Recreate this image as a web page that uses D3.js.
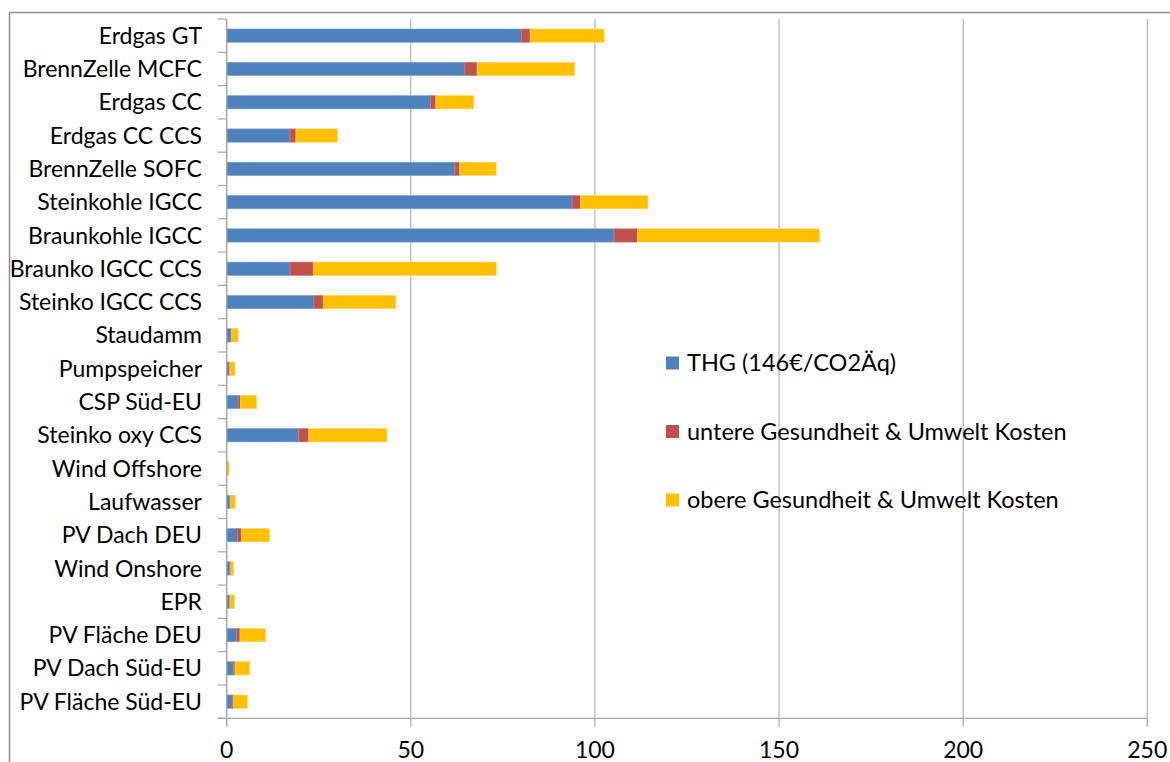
<!DOCTYPE html>
<html>
<head>
<meta charset="utf-8">
<script src="https://cdn.jsdelivr.net/npm/d3@7"></script>
<style>
  html, body { margin: 0; padding: 0; background: #fff; }
  svg { display: block; }
  text { font-family: Lato, "Open Sans", sans-serif; fill: #000; }
</style>
</head>
<body>
<svg id="chart" width="1170" height="762"></svg>
<script>
// Power plant types, top to bottom
const categories = [
  "Erdgas GT", "BrennZelle MCFC", "Erdgas CC", "Erdgas CC CCS", "BrennZelle SOFC",
  "Steinkohle IGCC", "Braunkohle IGCC", "Braunko IGCC CCS", "Steinko IGCC CCS",
  "Staudamm", "Pumpspeicher", "CSP Süd-EU", "Steinko oxy CCS", "Wind Offshore",
  "Laufwasser", "PV Dach DEU", "Wind Onshore", "EPR", "PV Fläche DEU",
  "PV Dach Süd-EU", "PV Fläche Süd-EU"
];

// Series names
const seriesNames = [
  "THG (146€/CO2Äq)",
  "untere Gesundheit & Umwelt Kosten",
  "obere Gesundheit & Umwelt Kosten"
];

// Stacked cost components per category
const thg = [
  80.0, 64.7, 55.4, 17.2, 62.0,
  93.8, 105.2, 17.2, 23.7,
  1.2, 0.8, 3.1, 19.6, 0.25,
  0.9, 2.9, 0.9, 0.8, 2.7,
  1.8, 1.5
];
const untere = [
  2.4, 3.3, 1.4, 1.6, 1.3,
  2.3, 6.3, 6.3, 2.5,
  0.1, 0.05, 0.6, 2.7, 0.05,
  0.1, 1.1, 0.2, 0.1, 0.9,
  0.45, 0.4
];
const obere = [
  20.1, 26.5, 10.3, 11.3, 9.9,
  18.3, 49.5, 49.7, 19.7,
  1.8, 1.4, 4.4, 21.2, 0.35,
  1.3, 7.6, 0.8, 1.2, 7.0,
  4.0, 3.7
];

const xTicks = [0, 50, 100, 150, 200, 250];
const colors = ["#4F81BD", "#C0504D", "#FFC000"];
const strokes = ["#7FA3D1", "#D27E7B", "#FFD466"];

const svg = d3.select("#chart");

// outer frame of the chart area
svg.append("path")
  .attr("d", "M9.5,770 V12.5 H1180")
  .attr("fill", "none")
  .attr("stroke", "#8C8C8C")
  .attr("stroke-width", 1.5);

const plot = { left: 226.7, right: 1147.3, top: 19, bottom: 718.3 };

const x = d3.scaleLinear().domain([0, 250]).range([plot.left, plot.right]);
const y = d3.scaleBand().domain(categories).range([plot.top, plot.bottom]).paddingInner(0.6).paddingOuter(0.3);
const band = d3.scaleBand().domain(categories).range([plot.top, plot.bottom]);

// vertical gridlines
svg.append("g")
  .selectAll("line")
  .data(xTicks.slice(1))
  .join("line")
  .attr("x1", d => x(d)).attr("x2", d => x(d))
  .attr("y1", plot.top).attr("y2", plot.bottom)
  .attr("stroke", "#A6A6A6").attr("stroke-width", 1);

// stacked bars
const rows = categories.map((c, i) => ({ cat: c, s0: thg[i], s1: untere[i], s2: obere[i] }));
const stack = d3.stack().keys(["s0", "s1", "s2"])(rows);

svg.append("g")
  .selectAll("g")
  .data(stack)
  .join("g")
  .attr("fill", (d, i) => colors[i])
  .attr("stroke", (d, i) => strokes[i])
  .attr("stroke-width", 0.6)
  .selectAll("rect")
  .data(d => d)
  .join("rect")
  .attr("x", d => x(d[0]))
  .attr("width", d => Math.max(0, x(d[1]) - x(d[0])))
  .attr("y", d => y(d.data.cat))
  .attr("height", y.bandwidth());

// category axis (left)
const catTicks = d3.range(categories.length + 1).map(i => plot.top + i * band.step());
svg.append("line")
  .attr("x1", plot.left).attr("x2", plot.left)
  .attr("y1", plot.top).attr("y2", plot.bottom + 8.5)
  .attr("stroke", "#A6A6A6").attr("stroke-width", 1.5);
svg.append("g")
  .selectAll("line")
  .data(catTicks)
  .join("line")
  .attr("x1", plot.left - 9).attr("x2", plot.left)
  .attr("y1", d => d).attr("y2", d => d)
  .attr("stroke", "#A6A6A6").attr("stroke-width", 1.2);

svg.append("g")
  .selectAll("text")
  .data(categories)
  .join("text")
  .attr("x", 202)
  .attr("y", d => band(d) + band.bandwidth() / 2)
  .attr("dy", "0.35em")
  .attr("text-anchor", "end")
  .attr("font-size", 23)
  .text(d => d);

// value axis (bottom)
svg.append("line")
  .attr("x1", plot.left - 9).attr("x2", plot.right)
  .attr("y1", plot.bottom).attr("y2", plot.bottom)
  .attr("stroke", "#A6A6A6").attr("stroke-width", 1.2);
svg.append("g")
  .selectAll("line")
  .data(xTicks.slice(1))
  .join("line")
  .attr("x1", d => x(d)).attr("x2", d => x(d))
  .attr("y1", plot.bottom).attr("y2", plot.bottom + 8.5)
  .attr("stroke", "#A6A6A6").attr("stroke-width", 1.2);
svg.append("g")
  .selectAll("text")
  .data(xTicks)
  .join("text")
  .attr("x", d => x(d))
  .attr("y", 758)
  .attr("text-anchor", "middle")
  .attr("font-size", 23)
  .text(d => d);

// legend
const legend = svg.append("g")
  .selectAll("g")
  .data(seriesNames)
  .join("g")
  .attr("transform", (d, i) => `translate(666, ${363 + i * 68.5})`);
legend.append("rect")
  .attr("x", 0).attr("y", -6.5)
  .attr("width", 13).attr("height", 13)
  .attr("fill", (d, i) => colors[i]);
legend.append("text")
  .attr("x", 21)
  .attr("y", 0)
  .attr("dy", "0.35em")
  .attr("font-size", 23.5)
  .text(d => d);
</script>
</body>
</html>
